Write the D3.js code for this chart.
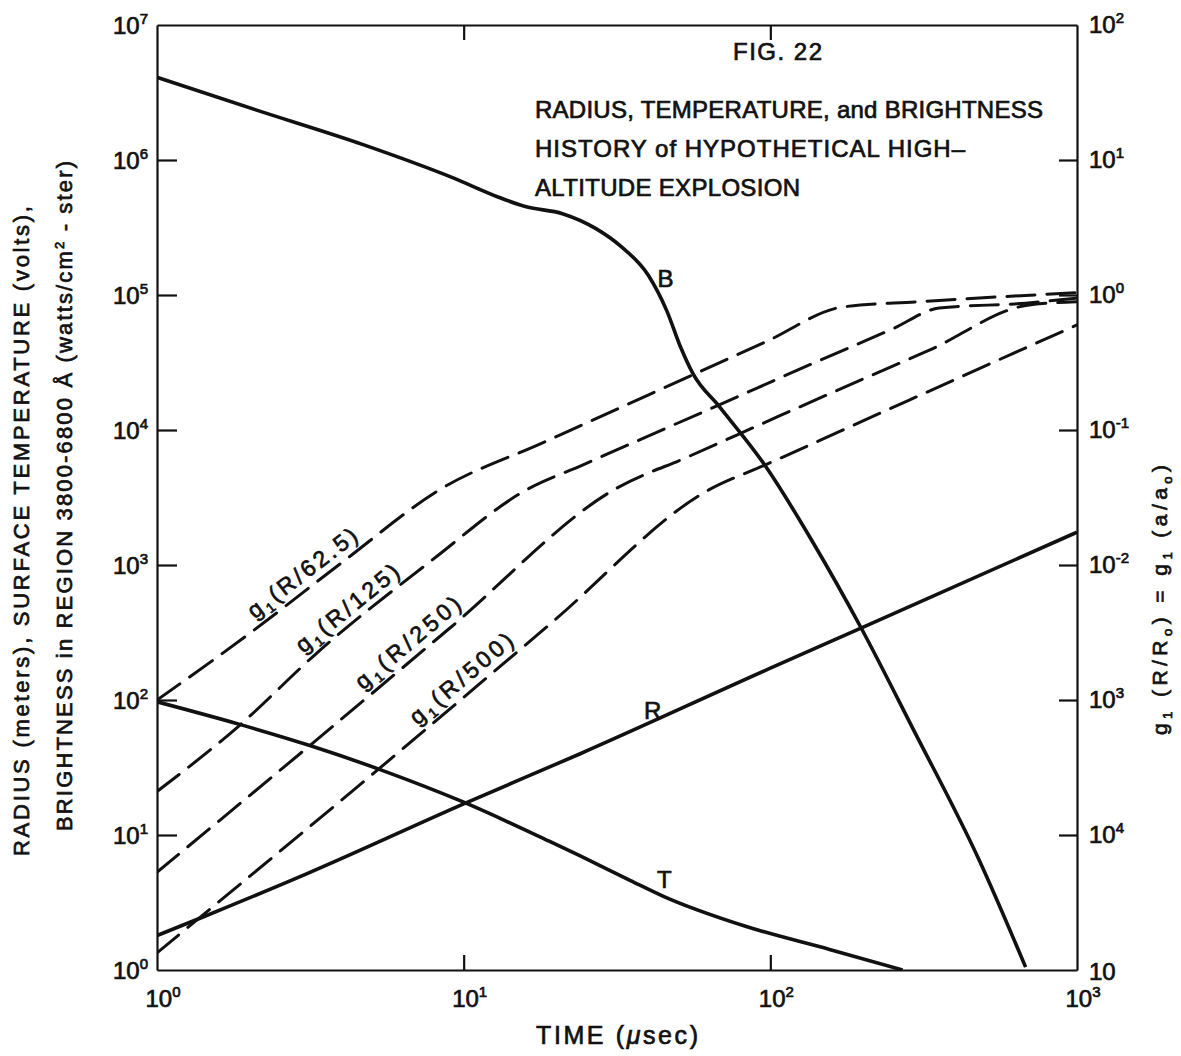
<!DOCTYPE html>
<html>
<head>
<meta charset="utf-8">
<script src="https://cdn.jsdelivr.net/npm/d3@7"></script>
<style>
  body { margin: 0; background: #fff; }
  svg { display: block; background: #fff; }
  text { font-family: "Liberation Sans", Arial, sans-serif; fill: #111; stroke: #111; stroke-width: 0.7px; }
</style>
</head>
<body>
<svg id="chart" width="1181" height="1056"></svg>
<script>
// ---- Axis ticks ----
const timeTicks = [1, 10, 100, 1000];
const timeTickExponents = ["0", "1", "2", "3"];
const leftTicks = [1, 1e1, 1e2, 1e3, 1e4, 1e5, 1e6, 1e7];
const leftTickExponents = ["0", "1", "2", "3", "4", "5", "6", "7"];
// right-hand g1 scale, exponents as lettered on the drawing
const rightTicks = [1e-5, 1e-4, 1e-3, 1e-2, 1e-1, 1, 1e1, 1e2];
const rightTickExponents = ["", "4", "3", "-2", "-1", "0", "1", "2"];

// ---- Curves: [time (µsec), value] ----
// B: brightness, watts/cm^2-ster (left scale)
const brightnessB = [
  [1, 4.1e6], [2.1, 2.35e6], [4.7, 1.3e6], [9.2, 7.4e5], [13, 5.3e5], [16, 4.5e5],
  [21, 4.0e5], [27, 3.1e5], [32.5, 2.3e5], [40, 1.4e5], [46, 7.6e4], [51, 4.1e4],
  [56, 2.6e4], [68, 1.5e4], [97, 5.3e3], [137, 1.5e3], [198, 340], [290, 63],
  [480, 6.5], [680, 1.05]
];
// R: radius, meters (left scale)
const radiusR = [
  [1, 1.8], [1.4, 2.45], [3.1, 5.2], [10, 17], [24, 40], [100, 172], [200, 345], [1000, 1750]
];
// T: surface temperature, volts (left scale)
const temperatureT = [
  [1, 97], [1.86, 66], [3.15, 46], [5.45, 30], [10, 17.5], [19, 9.0], [24, 7.0],
  [35, 4.6], [45, 3.5], [83.5, 2.1], [156, 1.42], [270, 1.0]
];
// g1(R/a) curves (right scale)
const g1R62_5 = [
  [1, 1.0e-3], [2, 3.1e-3], [4, 0.0104], [8.5, 0.037], [18, 0.080], [25, 0.112],
  [56, 0.257], [97, 0.452], [172, 0.815], [300, 0.89], [480, 0.95], [1000, 1.04]
];
const g1R125 = [
  [1, 2.1e-4], [1.86, 6.5e-4], [3.3, 2.2e-3], [7.9, 0.0109], [16, 0.036], [24.4, 0.055],
  [35, 0.079], [67, 0.151], [137, 0.31], [250, 0.56], [355, 0.8], [680, 0.87], [1000, 0.95]
];
const g1R250 = [
  [1, 5.3e-5], [3.15, 4.6e-4], [9, 3.4e-3], [31.5, 0.037], [54.5, 0.064], [107, 0.127],
  [206, 0.245], [330, 0.39], [690, 0.84], [1000, 0.89]
];
const g1R500 = [
  [1, 1.34e-5], [5.3, 3.1e-4], [19, 3.6e-3], [63, 0.036], [96, 0.055], [226, 0.132],
  [480, 0.285], [1000, 0.6]
];
const dashedSeries = [g1R62_5, g1R125, g1R250, g1R500];
const dashedDivisors = ["62.5", "125", "250", "500"];
const dashedLabelTimes = [3.2, 4.5, 7.1, 10.6];

// ---- Layout ----
const svg = d3.select("#chart");
const plot = { left: 157, right: 1077, top: 25, bottom: 970 };
const ink = "#111";

const x = d3.scaleLog().domain([1, 1000]).range([plot.left, plot.right]);
const yL = d3.scaleLog().domain([1, 1e7]).range([plot.bottom, plot.top]);
const yR = d3.scaleLog().domain([1e-5, 1e2]).range([plot.bottom, plot.top]);

function styleAxis(g) {
  g.selectAll("path, line").attr("stroke", ink).attr("stroke-width", 2.2).attr("fill", "none");
  g.selectAll("text").remove();
}

// frame with inward ticks
svg.append("g").attr("transform", `translate(${plot.left},0)`)
  .call(d3.axisLeft(yL).tickValues(leftTicks.slice(1, -1)).tickSizeInner(-20).tickSizeOuter(0))
  .call(styleAxis);
svg.append("g").attr("transform", `translate(${plot.right},0)`)
  .call(d3.axisRight(yR).tickValues(rightTicks.slice(1, -1)).tickSizeInner(-18).tickSizeOuter(0))
  .call(styleAxis);
svg.append("g").attr("transform", `translate(0,${plot.top})`)
  .call(d3.axisTop(x).tickValues(timeTicks.slice(1, -1)).tickSizeInner(-15).tickSizeOuter(0))
  .call(styleAxis);
svg.append("g").attr("transform", `translate(0,${plot.bottom})`)
  .call(d3.axisBottom(x).tickValues(timeTicks.slice(1, -1)).tickSizeInner(-15).tickSizeOuter(0))
  .call(styleAxis);

// power-of-ten tick labels
function power(g, px, py, exp, anchor) {
  const t = g.append("text").attr("x", px).attr("y", py)
    .attr("text-anchor", anchor).attr("font-size", 24);
  t.append("tspan").text("10");
  if (exp !== "") t.append("tspan").attr("dy", -10).attr("font-size", 15).text(exp);
}
const labels = svg.append("g");
leftTicks.forEach((v, i) => power(labels, 148, yL(v) + 9, leftTickExponents[i], "end"));
rightTicks.forEach((v, i) => power(labels, 1089, yR(v) + (i === 0 ? 10 : 8), rightTickExponents[i], "start"));
timeTicks.forEach((v, i) => power(labels, x(v) + 6, 1007, timeTickExponents[i], "middle"));

// axis titles
const xt = svg.append("text").attr("x", 617).attr("y", 1044).attr("text-anchor", "middle")
  .attr("font-size", 25).attr("textLength", 162).attr("lengthAdjust", "spacing");
xt.append("tspan").text("TIME (");
xt.append("tspan").attr("font-style", "italic").text("\u03bc");
xt.append("tspan").text("sec)");

svg.append("text").attr("transform", "translate(29,531) rotate(-90)")
  .attr("text-anchor", "middle").attr("font-size", 22)
  .attr("textLength", 650).attr("lengthAdjust", "spacing")
  .text("RADIUS (meters), SURFACE TEMPERATURE (volts),");
const yt2 = svg.append("text").attr("transform", "translate(72,496) rotate(-90)")
  .attr("text-anchor", "middle").attr("font-size", 22)
  .attr("textLength", 670).attr("lengthAdjust", "spacing");
yt2.append("tspan").text("BRIGHTNESS in REGION 3800-6800 \u00c5 (watts/cm");
yt2.append("tspan").attr("dy", -8).attr("font-size", 13).text("2");
yt2.append("tspan").attr("dy", 8).text(" - ster)");

const rt = svg.append("text").attr("transform", "translate(1167,600) rotate(-90)")
  .attr("text-anchor", "middle").attr("font-size", 21)
  .attr("textLength", 270).attr("lengthAdjust", "spacing");
rt.append("tspan").text("g");
rt.append("tspan").attr("dy", 5).attr("font-size", 13).text("1");
rt.append("tspan").attr("dy", -5).text(" (R/R");
rt.append("tspan").attr("dy", 5).attr("font-size", 13).text("o");
rt.append("tspan").attr("dy", -5).text(")  =  g");
rt.append("tspan").attr("dy", 5).attr("font-size", 13).text("1");
rt.append("tspan").attr("dy", -5).text(" (a/a");
rt.append("tspan").attr("dy", 5).attr("font-size", 13).text("o");
rt.append("tspan").attr("dy", -5).text(")");

// figure title block
const titleLines = [
  { text: "FIG. 22", x: 733, y: 60, len: 89 },
  { text: "RADIUS, TEMPERATURE, and BRIGHTNESS", x: 535, y: 118, len: 508 },
  { text: "HISTORY of HYPOTHETICAL HIGH\u2013", x: 535, y: 157, len: 430 },
  { text: "ALTITUDE EXPLOSION", x: 535, y: 196, len: 265 }
];
svg.append("g").selectAll("text").data(titleLines).join("text")
  .attr("x", d => d.x).attr("y", d => d.y).attr("font-size", 24)
  .attr("textLength", d => d.len).attr("lengthAdjust", "spacing")
  .text(d => d.text);

// ---- Curves ----
svg.append("clipPath").attr("id", "plotClip").append("rect")
  .attr("x", plot.left).attr("y", plot.top)
  .attr("width", plot.right - plot.left).attr("height", plot.bottom - plot.top);
const curves = svg.append("g").attr("clip-path", "url(#plotClip)");

const lineL = d3.line().x(d => x(d[0])).y(d => yL(d[1])).curve(d3.curveMonotoneX);
const lineR = d3.line().x(d => x(d[0])).y(d => yR(d[1])).curve(d3.curveMonotoneX);

[brightnessB, radiusR, temperatureT].forEach(s => {
  curves.append("path").attr("d", lineL(s)).attr("fill", "none")
    .attr("stroke", ink).attr("stroke-width", 3.6).attr("stroke-linejoin", "round");
});
dashedSeries.forEach(s => {
  curves.append("path").attr("d", lineR(s)).attr("fill", "none")
    .attr("stroke", ink).attr("stroke-width", 3)
    .attr("stroke-dasharray", "28,12").attr("stroke-linecap", "round");
});

// curve letters
const letters = [
  { t: "B", at: [45.5, 1.34e5] },
  { t: "R", at: [41.3, 84] },
  { t: "T", at: [45.1, 4.7] }
];
svg.append("g").selectAll("text").data(letters).join("text")
  .attr("x", d => x(d.at[0])).attr("y", d => yL(d.at[1]) + 9)
  .attr("text-anchor", "middle").attr("font-size", 24).text(d => d.t);

// g1 labels written along their dashed curves
function pointOn(series, t) {
  const lt = Math.log10(t);
  for (let i = 0; i < series.length - 1; i++) {
    const a = series[i], b = series[i + 1];
    if (t >= a[0] && t <= b[0]) {
      const f = (lt - Math.log10(a[0])) / (Math.log10(b[0]) - Math.log10(a[0]));
      const lv = Math.log10(a[1]) + f * (Math.log10(b[1]) - Math.log10(a[1]));
      return [x(t), yR(Math.pow(10, lv))];
    }
  }
  return [x(t), yR(series[series.length - 1][1])];
}
const labelLengths = [132, 126, 130, 128];
dashedSeries.forEach((s, i) => {
  const t = dashedLabelTimes[i];
  const p0 = pointOn(s, t / 1.15), p1 = pointOn(s, t * 1.15), p = pointOn(s, t);
  const ang = Math.atan2(p1[1] - p0[1], p1[0] - p0[0]);
  const off = 16;
  const cx = p[0] + Math.sin(ang) * off, cy = p[1] - Math.cos(ang) * off;
  const lbl = svg.append("text")
    .attr("transform", `translate(${cx},${cy}) rotate(${ang * 180 / Math.PI})`)
    .attr("x", 0).attr("y", 8).attr("text-anchor", "middle").attr("font-size", 23)
    .attr("textLength", labelLengths[i]).attr("lengthAdjust", "spacing");
  lbl.append("tspan").text("g");
  lbl.append("tspan").attr("dy", 5).attr("font-size", 14).text("1");
  lbl.append("tspan").attr("dy", -5).text("(R/" + dashedDivisors[i] + ")");
});
</script>
</body>
</html>
